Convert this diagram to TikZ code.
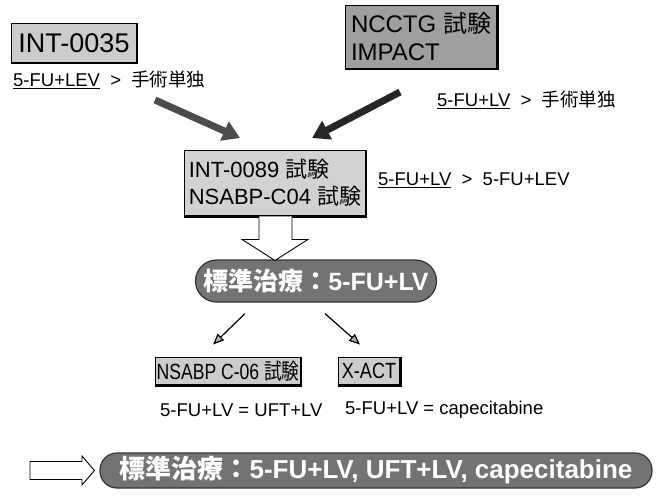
\documentclass[tikz,border=0pt]{standalone}
\usepackage{fontspec}
\usepackage{graphicx}
\setmainfont{Liberation Sans}
\newfontfamily\jp{Noto Sans CJK JP}
\usetikzlibrary{arrows.meta,calc}
\tikzset{
  trialbox/.style={draw=black, line width=0.9pt, fill=#1, inner sep=1pt, align=left},
  pill/.style={draw=gray!40!black, line width=1.2pt, fill=gray!90!black, rounded corners=17pt, text=white, font=\bfseries, inner sep=0pt},
  lbl/.style={anchor=west, inner sep=0pt, font=\fontsize{18.5}{21}\selectfont},
  bigarrow/.style={line width=7pt, draw=#1, -{Triangle[width=20pt,length=17pt]}},
  smallarrow/.style={line width=1.2pt, draw=black, -{Triangle[width=9pt,length=11pt,fill=gray!60]}},
  openarrow/.style={draw=black, line width=0.9pt, fill=white},
  shadowedge/.style={draw=black, line width=2.2pt}
}
\begin{document}
\begin{tikzpicture}[x=1pt,y=-1pt]
\useasboundingbox (0,0) rectangle (656,496);
\fill[white] (0,0) rectangle (656,496);
% top trial boxes
\node[trialbox=gray!40, minimum width=125pt, minimum height=39pt, font=\fontsize{27}{29}\selectfont] (int35) at (74,43) {INT-0035};
\node[lbl] (t1) at (13,80) {\underline{5-FU+LEV} \ >\ \ {\jp 手術単独}};
\node[trialbox=gray!75, minimum width=152pt, minimum height=63pt, font=\fontsize{24}{28}\selectfont] (ncctg) at (421,37) {NCCTG {\jp 試験}\\IMPACT};
\node[lbl] (t2) at (437,100) {\underline{5-FU+LV} \ >\ \ {\jp 手術単独}};
% middle
\node[trialbox=gray!35, minimum width=181pt, minimum height=66pt, font=\fontsize{22}{27}\selectfont] (int89) at (275,183) {INT-0089 {\jp 試験}\\NSABP-C04 {\jp 試験}};
\node[lbl] (t3) at (378,180) {\underline{5-FU+LV} \ >\ \ 5-FU+LEV};
\foreach \b in {int35,ncctg,int89}
  \draw[shadowedge] (\b.north east) -- (\b.south east) -- (\b.south west);
% big arrows
\coordinate (la) at (155,100);
\coordinate (lb) at (240,138);
\coordinate (ra) at (400,92);
\coordinate (rb) at (312,138);
\draw[bigarrow=gray!60!black] (la) -- (lb);
\draw[bigarrow=gray!30!black] (ra) -- (rb);
% standard 1
\node[pill, minimum width=241pt, minimum height=42pt, rounded corners=21pt, font=\bfseries\fontsize{25}{28}\selectfont] (std1) at (316,281) {{\jp 標準治療：}5-FU+LV};
% open block arrow
\draw[openarrow] ($(int89.south)+(-16,0)$) -- ++(0,23) -- ++(-17,0) -- ($(int89.south)+(0,44)$) -- ++(33,-21) -- ++(-16,0) -- ++(0,-23);
% second-level trials
\node[trialbox=gray!40, minimum width=143pt, minimum height=28pt, font=\fontsize{22}{24}\selectfont] (c06) at (228,371) {\scalebox{0.8}[1]{NSABP C-06 {\jp 試験}}};
\node[trialbox=gray!40, minimum width=62pt, minimum height=28pt, font=\fontsize{22}{24}\selectfont] (xact) at (369,371) {\scalebox{0.82}[1]{X-ACT}};
\foreach \b in {c06,xact}
  \draw[shadowedge] (\b.north east) -- (\b.south east) -- (\b.south west);
\draw[smallarrow] ($(std1.south)+(-71,11)$) -- ($(c06.north)+(-15,-12)$);
\draw[smallarrow] ($(std1.south)+(9,11)$) -- ($(xact.north)+(-9,-12)$);
\node[lbl] (t4) at (160,410) {5-FU+LV = UFT+LV};
\node[lbl] (t5) at (345,410) {5-FU+LV = capecitabine};
% final
\node[pill, minimum width=552pt, minimum height=35pt, font=\bfseries\fontsize{26}{28}\selectfont] (std2) at (376,470.5) {{\jp 標準治療：}5-FU+LV, UFT+LV, capecitabine};
\draw[openarrow] (30,461.5) -- (82,461.5) -- (82,456) -- ($(std2.west)+(-5,0)$) -- (82,485) -- (82,479.5) -- (30,479.5) -- cycle;
\end{tikzpicture}
\end{document}
